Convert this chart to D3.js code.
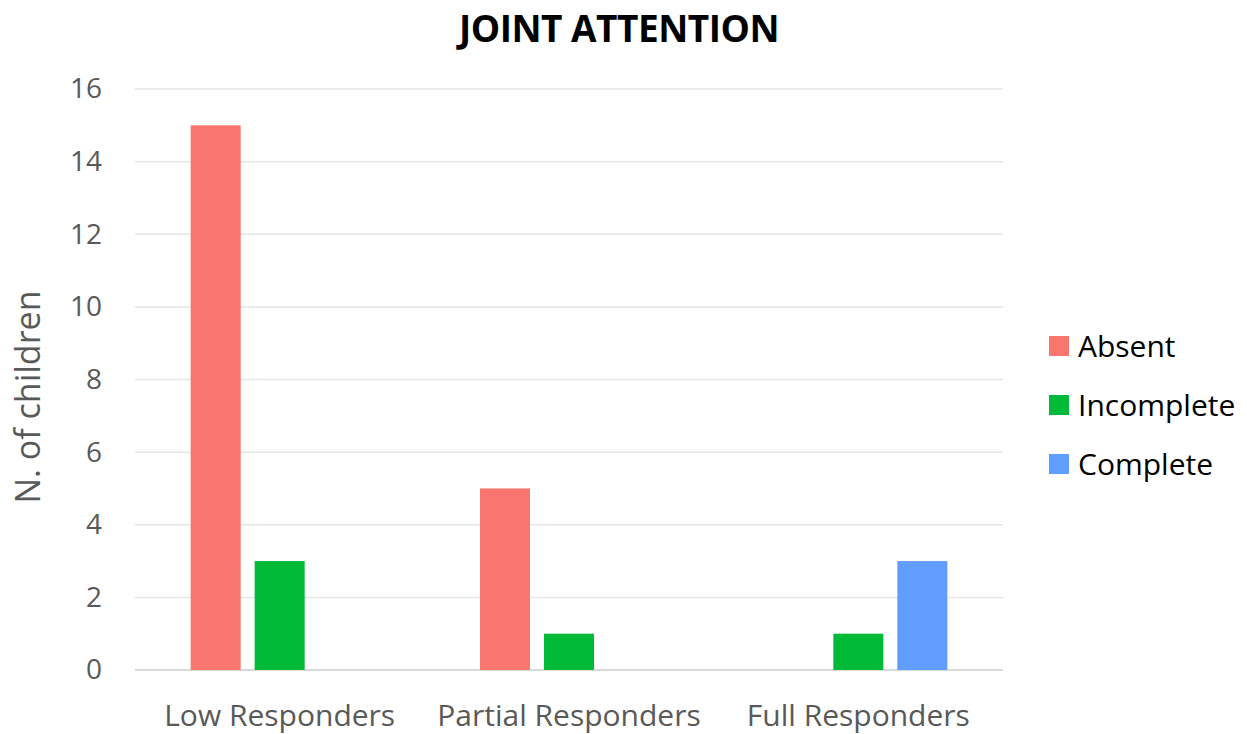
<!DOCTYPE html>
<html>
<head>
<meta charset="utf-8">
<script src="https://cdn.jsdelivr.net/npm/d3@7"></script>
<style>
  body { margin: 0; background: #fff; }
  text { font-family: "Open Sans", "Noto Sans", sans-serif; }
</style>
</head>
<body>
<div id="plot"></div>
<script>
// Chart data
const groups = ["Low Responders", "Partial Responders", "Full Responders"];
const levels = ["Absent", "Incomplete", "Complete"];
const absent = [15, 5, 0];
const incomplete = [3, 1, 1];
const complete = [0, 0, 3];
const yTicks = [0, 2, 4, 6, 8, 10, 12, 14, 16];
const colors = ["#F8766D", "#00BA38", "#619CFF"];

const width = 1247;
const height = 734;
const margin = { top: 89, right: 244, bottom: 64, left: 135 };

const svg = d3.select("#plot")
    .append("svg")
    .attr("width", width)
    .attr("height", height);

const series = [absent, incomplete, complete];
const rows = [];
groups.forEach((g, i) => {
    levels.forEach((l, j) => {
        rows.push({ group: g, level: l, value: series[j][i] });
    });
});

const x0 = d3.scaleBand()
    .domain(groups)
    .range([margin.left, width - margin.right]);

const x1 = d3.scaleBand()
    .domain(levels)
    .range([0, 178])
    .paddingInner(14 / 64);

const y = d3.scaleLinear()
    .domain([0, 16])
    .range([height - margin.bottom, margin.top]);

const color = d3.scaleOrdinal().domain(levels).range(colors);

// Gridlines
svg.append("g")
    .selectAll("line")
    .data(yTicks)
    .join("line")
    .attr("x1", margin.left)
    .attr("x2", width - margin.right)
    .attr("y1", d => y(d))
    .attr("y2", d => y(d))
    .attr("stroke", d => d === 0 ? "#d9d9d9" : "#e6e6e6")
    .attr("stroke-width", d => d === 0 ? 2 : 1.5);

// Y axis labels
const yAxis = d3.axisLeft(y).tickValues(yTicks).tickSize(0).tickPadding(0);
svg.append("g")
    .attr("transform", `translate(${margin.left - 33},0)`)
    .call(yAxis)
    .call(g => g.select(".domain").remove())
    .selectAll("text")
    .attr("font-family", "'Open Sans', 'Noto Sans', sans-serif")
    .attr("font-size", 28)
    .attr("fill", "#595959");

// X axis labels
const xAxis = d3.axisBottom(x0).tickSize(0).tickPadding(0);
svg.append("g")
    .attr("transform", `translate(0,${y(0) + 35})`)
    .call(xAxis)
    .call(g => g.select(".domain").remove())
    .selectAll("text")
    .attr("font-family", "'Open Sans', 'Noto Sans', sans-serif")
    .attr("font-size", 30)
    .attr("fill", "#595959");

// Bars
svg.append("g")
    .selectAll("rect")
    .data(rows.filter(d => d.value > 0))
    .join("rect")
    .attr("x", d => x0(d.group) + x0.bandwidth() / 2 - 89 + x1(d.level))
    .attr("y", d => y(d.value))
    .attr("width", x1.bandwidth())
    .attr("height", d => y(0) - y(d.value))
    .attr("fill", d => color(d.level));

// Title
svg.append("text")
    .attr("x", 619)
    .attr("y", 42)
    .attr("text-anchor", "middle")
    .attr("font-size", 37)
    .attr("font-weight", "bold")
    .attr("letter-spacing", -0.5)
    .attr("fill", "#000")
    .text("JOINT ATTENTION");

// Y axis title
svg.append("text")
    .attr("transform", "rotate(-90)")
    .attr("x", -397)
    .attr("y", 40)
    .attr("text-anchor", "middle")
    .attr("font-size", 34)
    .attr("fill", "#595959")
    .text("N. of children");

// Legend
const legend = svg.append("g")
    .attr("transform", "translate(1049,336)");
const items = legend.selectAll("g")
    .data(levels)
    .join("g")
    .attr("transform", (d, i) => `translate(0,${i * 59})`);
items.append("rect")
    .attr("width", 20)
    .attr("height", 20)
    .attr("fill", d => color(d));
items.append("text")
    .attr("x", 29)
    .attr("y", 10)
    .attr("dy", "0.35em")
    .attr("font-size", 30)
    .attr("fill", "#000")
    .text(d => d);
</script>
</body>
</html>
